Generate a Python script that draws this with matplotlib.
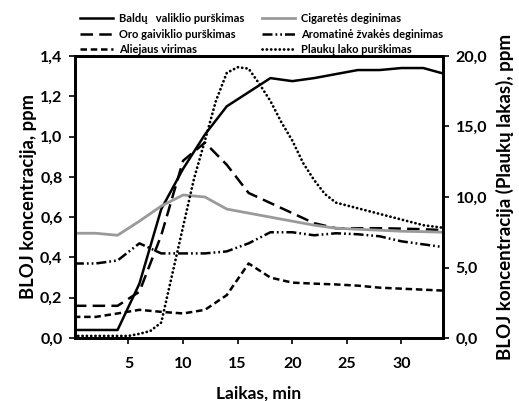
import matplotlib
matplotlib.use("Agg")
import matplotlib.pyplot as plt

plt.rcParams["font.family"] = ["Lato", "DejaVu Sans"]
plt.rcParams["font.weight"] = "bold"

# laikas, min
t = [0, 2, 4, 6, 8, 10, 12, 14, 16, 18, 20, 22, 24, 26, 28, 30, 32, 34]

baldu = [0.04, 0.04, 0.04, 0.27, 0.64, 0.84, 1.01, 1.15, 1.22, 1.29, 1.275, 1.29,
         1.31, 1.33, 1.33, 1.34, 1.34, 1.31]
oro = [0.16, 0.16, 0.16, 0.23, 0.51, 0.88, 0.97, 0.86, 0.72, 0.67, 0.62, 0.57,
       0.545, 0.545, 0.545, 0.543, 0.54, 0.535]
aliejaus = [0.105, 0.105, 0.122, 0.14, 0.13, 0.122, 0.14, 0.213, 0.37, 0.30, 0.275,
            0.27, 0.266, 0.26, 0.25, 0.245, 0.24, 0.235]
cigaretes = [0.52, 0.52, 0.51, 0.58, 0.655, 0.71, 0.70, 0.64, 0.62, 0.60, 0.58,
             0.56, 0.545, 0.54, 0.535, 0.53, 0.528, 0.525]
zvakes = [0.37, 0.37, 0.385, 0.47, 0.42, 0.42, 0.42, 0.43, 0.47, 0.525, 0.525,
          0.51, 0.52, 0.515, 0.505, 0.48, 0.465, 0.45]

# plaukų lakas – dešinė ašis
t_lak = [0, 2, 4, 5, 6, 7, 8, 9, 10, 11, 12, 13, 14, 15, 16, 17, 18, 19, 20,
         21, 22, 23, 24, 26, 28, 30, 32, 34]
lakas = [0.15, 0.15, 0.15, 0.15, 0.3, 0.5, 1.1, 4.5, 7.9, 11.3, 14.0, 16.8, 18.8,
         19.2, 19.1, 18.0, 16.8, 15.3, 14.0, 12.4, 11.2, 10.2, 9.6, 9.2, 8.8,
         8.4, 8.0, 7.8]

left_ticks = [0.0, 0.2, 0.4, 0.6, 0.8, 1.0, 1.2, 1.4]
right_ticks = [0, 5, 10, 15, 20]
x_ticks = [5, 10, 15, 20, 25, 30]


def comma(v, n=1):
    return f"{v:.{n}f}".replace(".", ",")


fig = plt.figure(figsize=(5.19, 4.01), dpi=100)
ax = fig.add_axes([0.1445, 0.157, 0.709, 0.7035])
ax2 = ax.twinx()

lw = 1.8
h1, = ax.plot(t, baldu, color="black", lw=lw, label="Baldų   valiklio purškimas")
h2, = ax.plot(t, oro, color="black", lw=lw, ls=(0, (5, 2.5)),
              label="Oro gaiviklio purškimas")
h3, = ax.plot(t, aliejaus, color="black", lw=lw, ls=(0, (2.6, 1.5)),
              label="Aliejaus virimas")
h4, = ax.plot(t, cigaretes, color="#9a9a9a", lw=2.0, label="Cigaretės deginimas")
h5, = ax.plot(t, zvakes, color="black", lw=lw, ls=(0, (4, 1.2, 0.7, 1.2, 0.7, 1.2)),
              label="Aromatinė žvakės deginimas")
h6, = ax2.plot(t_lak, lakas, color="black", lw=2.0, ls=(0, (0.05, 1.5)),
               dash_capstyle="round", label="Plaukų lako purškimas")

ax.set_xlim(0.1, 33.8)
ax.set_ylim(0, 1.4)
ax2.set_ylim(0, 20)

ax.set_xticks(x_ticks)
ax.set_xticklabels([str(x) for x in x_ticks])
ax.set_yticks(left_ticks)
ax.set_yticklabels([comma(v) for v in left_ticks])
ax2.set_yticks(right_ticks)
ax2.set_yticklabels([comma(v) for v in right_ticks])

for a in (ax, ax2):
    for s in a.spines.values():
        s.set_linewidth(2.0)
    a.tick_params(direction="out", length=4, width=1.2, labelsize=11.5, pad=5)
ax.tick_params(axis="x", pad=10)

ax.set_xlabel("Laikas, min", fontsize=12.5, fontweight="bold", labelpad=10)
ax.set_ylabel("BLOJ koncentracija, ppm", fontsize=13.2, fontweight="bold", labelpad=2)
ax2.set_ylabel("BLOJ koncentracija (Plaukų lakas), ppm", fontsize=13.5,
               fontweight="bold", labelpad=6)

# stulpeliais: kairėje 3, dešinėje 3
fig.legend(handles=[h1, h2, h3, h4, h5, h6], loc="upper left",
           bbox_to_anchor=(0.145, 0.978), ncol=2, frameon=False,
           fontsize=8, handlelength=3.0, handletextpad=0.5,
           columnspacing=1.6, labelspacing=0.4, borderaxespad=0)

fig.savefig("out.png", dpi=100)
